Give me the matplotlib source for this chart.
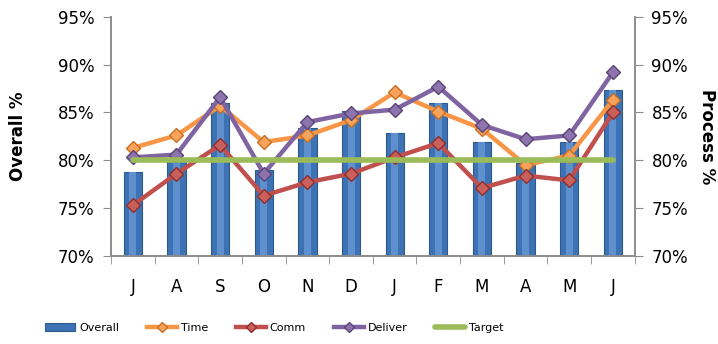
import matplotlib.pyplot as plt
import numpy as np
from matplotlib.ticker import FuncFormatter

months = ["J", "A", "S", "O", "N", "D", "J", "F", "M", "A", "M", "J"]
overall = [78.8, 80.0, 86.0, 79.0, 83.4, 85.2, 82.9, 86.0, 81.9, 79.7, 81.9, 87.4]
time_ = [81.3, 82.6, 85.7, 81.9, 82.6, 84.2, 87.1, 85.1, 83.3, 79.5, 80.5, 86.3]
comm = [75.3, 78.6, 81.6, 76.3, 77.7, 78.6, 80.3, 81.8, 77.1, 78.4, 77.9, 85.0]
deliver = [80.3, 80.6, 86.6, 78.6, 84.0, 84.9, 85.3, 87.7, 83.7, 82.2, 82.6, 89.2]
target = [80] * 12

plt.rcParams['font.family'] = ['Liberation Sans Narrow', 'DejaVu Sans']

fig = plt.figure(figsize=(7.18, 3.44), dpi=100)
ax = fig.add_axes([0.1546, 0.256, 0.884 - 0.1546, 0.695])
ax2 = ax.twinx()

x = np.arange(len(months))
ylo, yhi = 70, 95

# bars with a simple shaded look
ax.bar(x, np.array(overall) - ylo, bottom=ylo, width=0.42, color='#3d72b4',
       edgecolor='#2c5a8f', linewidth=0.8, zorder=2, label='Overall')
ax.bar(x, np.array(overall) - ylo, bottom=ylo, width=0.16, color='#5d90cc',
       linewidth=0, zorder=2.1)

line_kw = dict(lw=3.2, marker='D', ms=7, zorder=4)
ax2.plot(x, time_, color='#f79646', mfc='#f7a35c', mec='#c86e22', label='Time', **line_kw)
ax2.plot(x, comm, color='#c0504d', mfc='#c9605c', mec='#8c2f2d', label='Comm', **line_kw)
ax2.plot(x, deliver, color='#8064a2', mfc='#8d74ad', mec='#5a4378', label='Deliver', **line_kw)
ax2.plot(x, target, color='#9bbb59', lw=4, solid_capstyle='round', label='Target', zorder=5)

pct = FuncFormatter(lambda v, p: f"{v:.0f}%")
for a in (ax, ax2):
    a.set_ylim(ylo, yhi)
    a.set_yticks(range(70, 96, 5))
    a.yaxis.set_major_formatter(pct)
    a.set_xlim(-0.5, 11.5)
    for s in a.spines.values():
        s.set_color('#8c8c8c')
        s.set_linewidth(1.2)
    a.spines['top'].set_visible(False)
    a.tick_params(axis='y', labelsize=12, length=6, color='#8c8c8c', pad=6)
    for lbl in a.get_yticklabels():
        lbl.set_family(['DejaVu Sans'])

ax.set_xticks(x)
ax.set_xticklabels(months, fontsize=12, family=['DejaVu Sans'])
ax.set_xticks(np.arange(-0.5, 12, 1), minor=True)
ax.tick_params(axis='x', which='major', length=0, pad=16)
ax.tick_params(axis='x', which='minor', length=6, color='#8c8c8c')

ax.set_ylabel('Overall %', fontsize=12, fontweight='bold', family=['DejaVu Sans'], labelpad=22)
ax2.set_ylabel('Process %', fontsize=12, fontweight='bold', family=['DejaVu Sans'],
               rotation=270, labelpad=20)

h1, l1 = ax.get_legend_handles_labels()
h2, l2 = ax2.get_legend_handles_labels()
fig.legend(h1 + h2, l1 + l2, loc='center', bbox_to_anchor=(0.382, 0.047), ncol=5,
           frameon=False, fontsize=8, handlelength=2.7, columnspacing=2.5,
           handletextpad=0.35, markerscale=0.8)

fig.savefig('out.png', dpi=100)
